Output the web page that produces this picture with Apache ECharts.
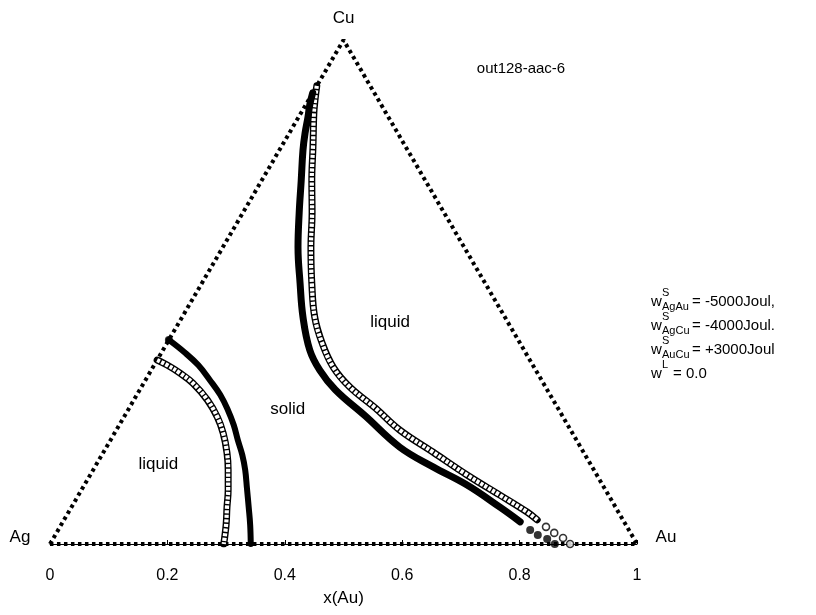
<!DOCTYPE html>
<html>
<head>
<meta charset="utf-8">
<script src="https://cdn.jsdelivr.net/npm/echarts@6/dist/echarts.min.js"></script>
<style>
  html, body { margin: 0; padding: 0; background: #fff; }
  #chart { width: 816px; height: 615px; }
</style>
</head>
<body>
<div id="chart"></div>
<script>
// Ternary Ag-Au-Cu diagram: compositions are [x(Au), x(Cu)], x(Ag) = 1 - x(Au) - x(Cu).
const xTicks = [0, 0.2, 0.4, 0.6, 0.8, 1];
const vertices = { Ag: [0, 0], Cu: [0, 1], Au: [1, 0] };

// Ag-rich side: solidus (filled dots) and liquidus (open circles)
const agSolidus = [
  [0.000, 0.405], [0.038, 0.381], [0.075, 0.355], [0.110, 0.325], [0.142, 0.296],
  [0.170, 0.266], [0.195, 0.236], [0.217, 0.206], [0.239, 0.177], [0.259, 0.147],
  [0.280, 0.111], [0.302, 0.073], [0.322, 0.038], [0.342, 0.000]
];
const agLiquidus = [
  [0.000, 0.365], [0.022, 0.355], [0.052, 0.339], [0.084, 0.319], [0.125, 0.286],
  [0.159, 0.252], [0.185, 0.220], [0.211, 0.181], [0.230, 0.147], [0.250, 0.107],
  [0.265, 0.073], [0.281, 0.038], [0.296, 0.000]
];

// Cu/Au side: solidus (filled dots) and liquidus (open circles)
const cuSolidus = [
  [0.000, 0.895], [0.007, 0.871], [0.016, 0.847], [0.027, 0.815], [0.040, 0.782],
  [0.067, 0.722], [0.096, 0.657], [0.128, 0.589], [0.167, 0.518], [0.206, 0.450],
  [0.250, 0.385], [0.287, 0.345], [0.333, 0.306], [0.410, 0.254], [0.500, 0.192],
  [0.576, 0.153], [0.652, 0.117], [0.730, 0.073], [0.779, 0.044]
];
const cuSolidusEnd = [[0.804, 0.028], [0.822, 0.018], [0.842, 0.010], [0.860, 0.000]];
const cuLiquidus = [
  [0.000, 0.909], [0.011, 0.881], [0.022, 0.855], [0.054, 0.788], [0.085, 0.722],
  [0.118, 0.657], [0.150, 0.589], [0.187, 0.518], [0.226, 0.450], [0.264, 0.399],
  [0.307, 0.351], [0.355, 0.3115], [0.419, 0.270], [0.483, 0.226], [0.561, 0.1825],
  [0.642, 0.137], [0.718, 0.097], [0.781, 0.0635], [0.806, 0.048]
];
const cuLiquidusEnd = [[0.828, 0.034], [0.848, 0.022], [0.868, 0.012], [0.886, 0.000]];

// phase-field labels, placed at compositions [x(Au), x(Cu)]
const regionLabels = [
  { text: 'liquid', at: [0.360, 0.439] },
  { text: 'solid', at: [0.271, 0.268] },
  { text: 'liquid', at: [0.105, 0.159] }
];

const SQ3 = Math.sqrt(3) / 2;
// composition -> cartesian plot coordinates
const toXY = c => [c[0] + c[1] / 2, c[1] * SQ3];
const conv = arr => arr.map(toXY);

const FONT = "'Liberation Sans', Arial, sans-serif";
const chart = echarts.init(document.getElementById('chart'));

const filledLine = (data, w) => ({
  type: 'line', data: conv(data), showSymbol: false, smooth: 0.4,
  lineStyle: { color: '#000', width: w, cap: 'round', join: 'round' }, z: 4
});
const openChain = (data) => [
  { type: 'line', data: conv(data), showSymbol: false, smooth: 0.4,
    lineStyle: { color: '#000', width: 7, cap: 'round', join: 'round' }, z: 3 },
  { type: 'line', data: conv(data), showSymbol: false, smooth: 0.4,
    lineStyle: { color: '#fff', width: 4.2, type: [3.2, 1.4], join: 'round' }, z: 3 }
];

const tri = [vertices.Ag, vertices.Cu, vertices.Au, vertices.Ag];

const option = {
  animation: false,
  grid: { left: 50, right: 179, top: 40, bottom: 71 },
  xAxis: {
    type: 'value', min: 0, max: 1, interval: 0.2,
    axisLine: { onZero: false, lineStyle: { color: '#000', width: 1 } },
    axisTick: { inside: true, length: 4, lineStyle: { color: '#000' } },
    axisLabel: { color: '#000', fontSize: 16, fontFamily: FONT, margin: 24,
                 formatter: v => xTicks.includes(+v.toFixed(1)) ? String(+v.toFixed(1)) : '' },
    splitLine: { show: false },
    name: 'x(Au)', nameLocation: 'middle', nameGap: 46,
    nameTextStyle: { color: '#000', fontSize: 17, fontFamily: FONT }
  },
  yAxis: { type: 'value', min: 0, max: SQ3, show: false },
  series: [
    { type: 'line', data: conv(tri), showSymbol: false, z: 2,
      lineStyle: { color: '#000', width: 4, type: [3.5, 3.5] } },
    filledLine(agSolidus, 6),
    ...openChain(agLiquidus),
    filledLine(cuSolidus, 7),
    ...openChain(cuLiquidus),
    { type: 'scatter', data: conv(cuSolidusEnd), symbol: 'circle', symbolSize: 8,
      itemStyle: { color: '#000' }, z: 4 },
    { type: 'scatter', data: conv(cuLiquidusEnd), symbol: 'circle', symbolSize: 7,
      itemStyle: { color: '#fff', borderColor: '#000', borderWidth: 1.6 }, z: 3 },
    { type: 'scatter', data: [toXY(agSolidus[0])], symbol: 'circle', symbolSize: 8,
      itemStyle: { color: '#000' }, z: 4 }
  ]
};
chart.setOption(option);

// text placed through the grid's coordinate conversion
const px = c => chart.convertToPixel({ gridIndex: 0 }, toXY(c));
const txt = (text, x, y, size, align) => ({
  type: 'text', x, y,
  style: { text, fill: '#000', font: size + 'px ' + FONT, textAlign: align || 'center', textVerticalAlign: 'middle' }
});

const g = [];
const cu = px(vertices.Cu), ag = px(vertices.Ag), au = px(vertices.Au);
g.push(txt('Cu', cu[0], cu[1] - 22, 17));
g.push(txt('Ag', ag[0] - 30, ag[1] - 7, 17));
g.push(txt('Au', au[0] + 29, au[1] - 7, 17));
g.push(txt('out128-aac-6', 521, 69, 15));
regionLabels.forEach(r => {
  const p = px(r.at);
  g.push(txt(r.text, p[0], p[1], 17));
});

// interaction parameters
const params = [
  { sup: 'S', sub: 'AgAu', rest: '= -5000Joul,' },
  { sup: 'S', sub: 'AgCu', rest: '= -4000Joul.' },
  { sup: 'S', sub: 'AuCu', rest: '= +3000Joul' },
  { sup: 'L', sub: '', rest: '= 0.0' }
];
params.forEach((p, i) => {
  const y = 302 + i * 24;
  const x0 = 651;
  g.push(txt('w', x0, y, 15, 'left'));
  g.push(txt(p.sup, x0 + 11, y - 9, 11, 'left'));
  if (p.sub) {
    g.push(txt(p.sub, x0 + 11, y + 5, 11, 'left'));
    g.push(txt(p.rest, x0 + 41, y, 15, 'left'));
  } else {
    g.push(txt(p.rest, x0 + 22, y, 15, 'left'));
  }
});
chart.setOption({ graphic: g });
</script>
</body>
</html>
